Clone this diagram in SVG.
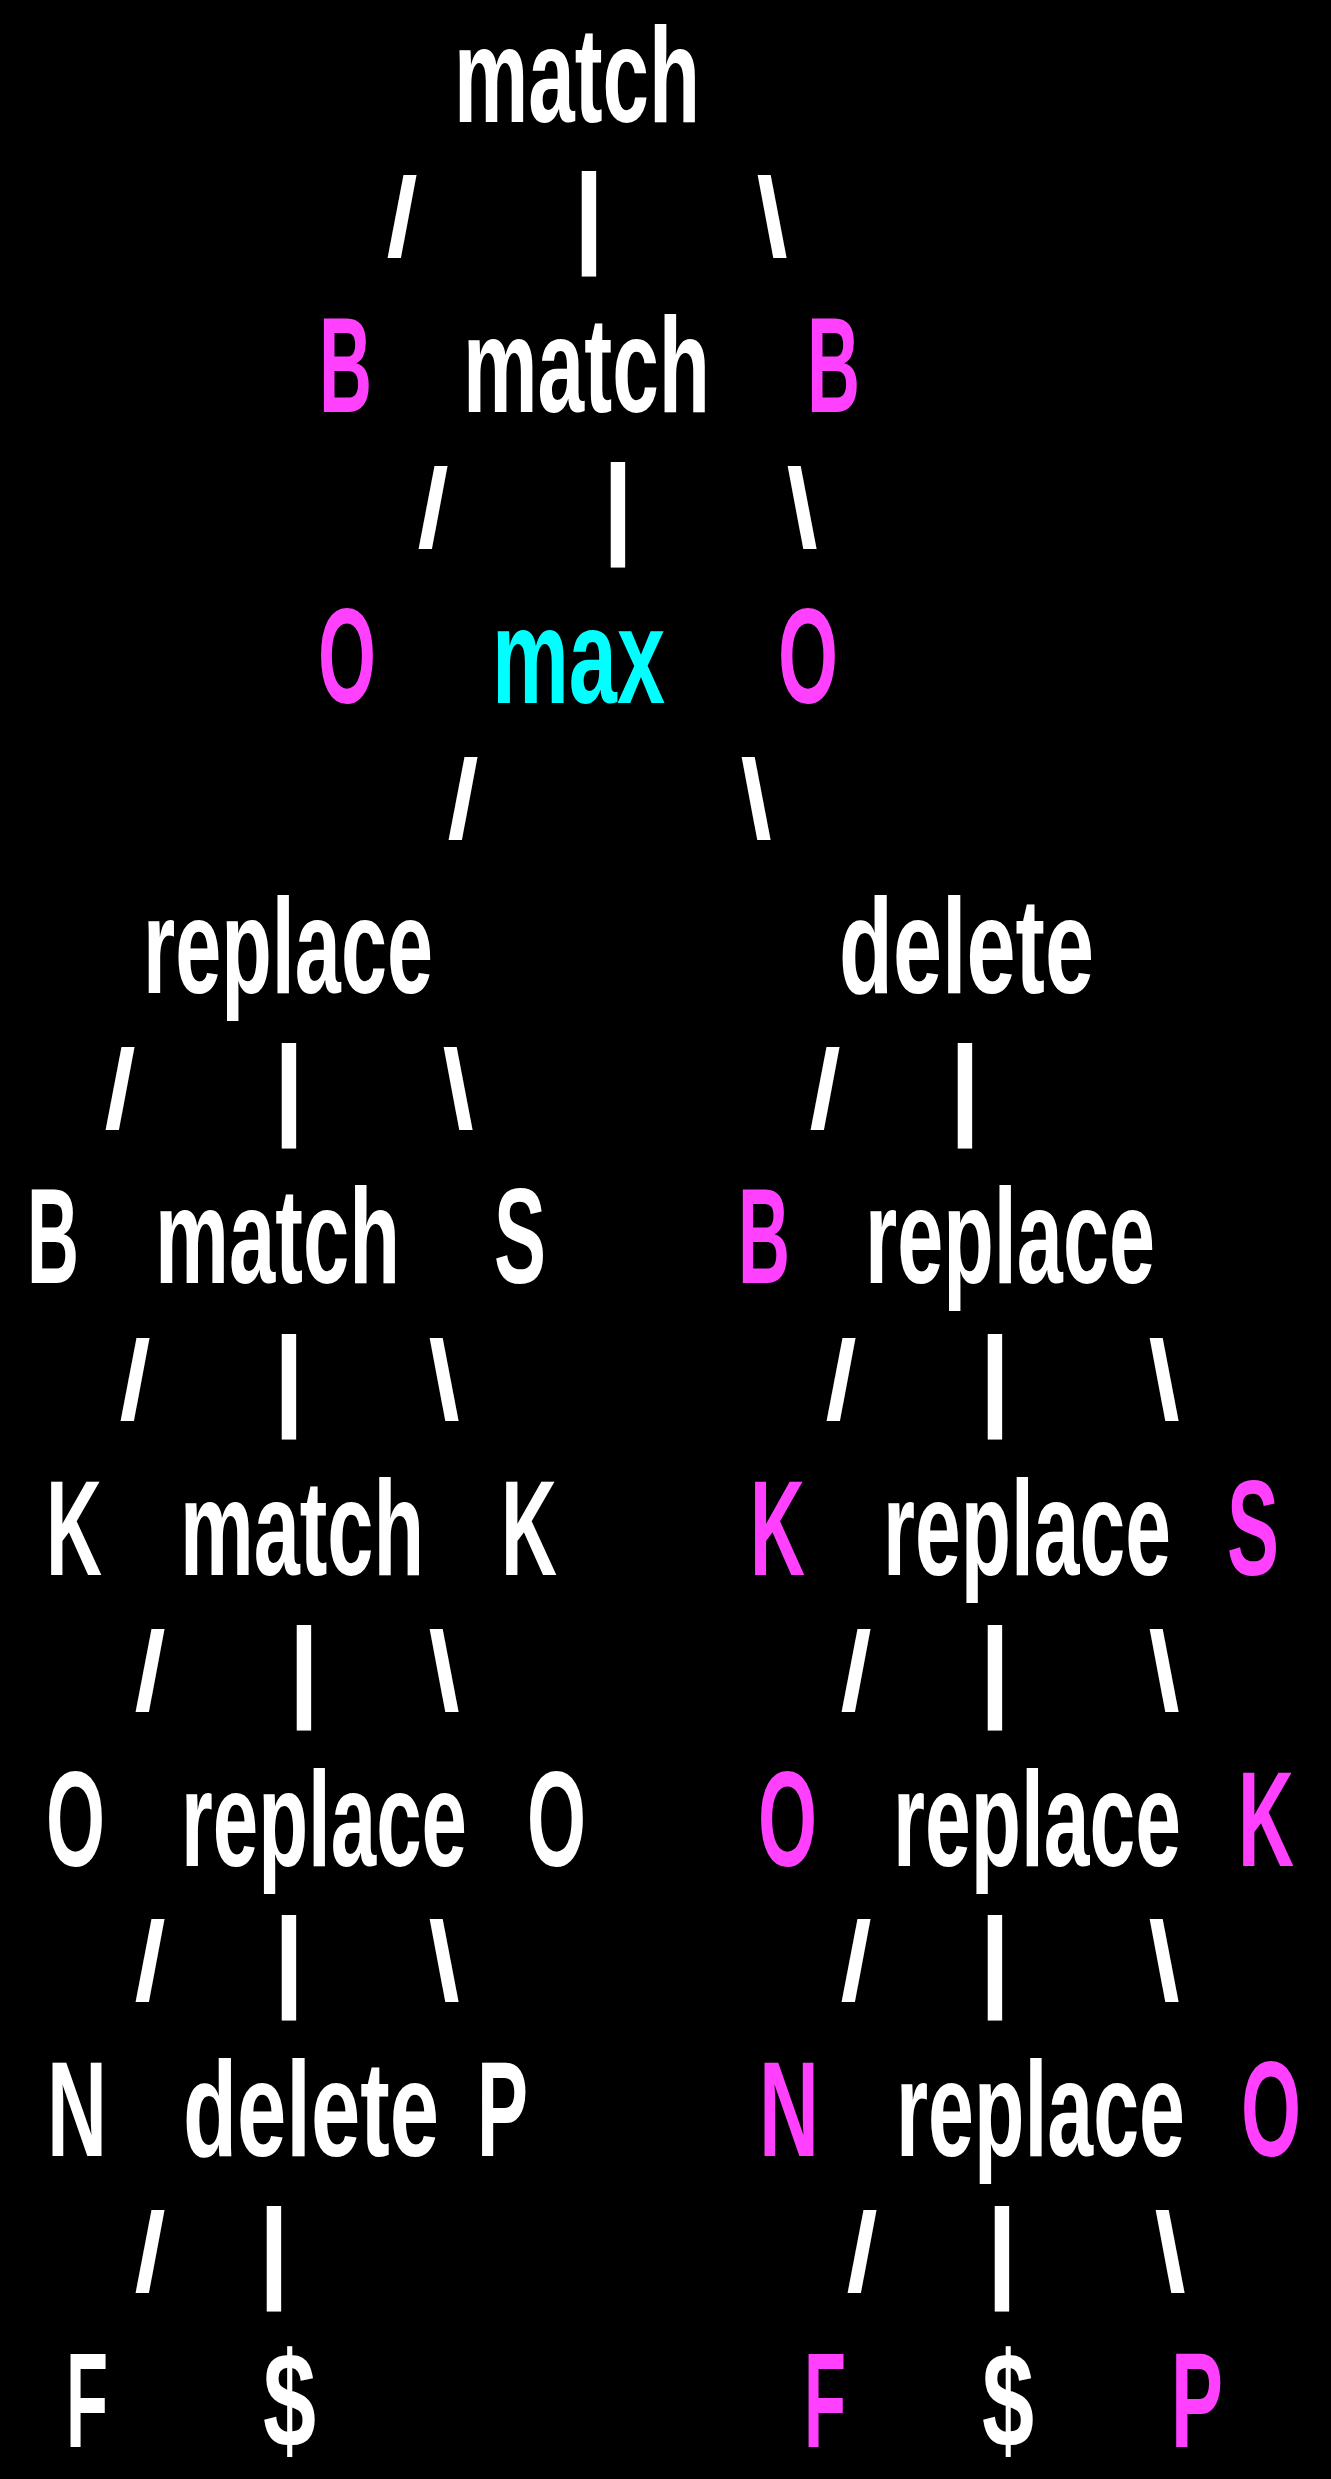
<svg xmlns="http://www.w3.org/2000/svg" width="1331" height="2479" viewBox="0 0 1331 2479">
<style>
.t{font-family:"Liberation Sans",Arial,sans-serif;font-weight:bold;font-size:136px}
.w{fill:#ffffff}.m{fill:#ff40ff}.c{fill:#00ffff}
.k{font-family:"Liberation Sans",Arial,sans-serif;font-weight:bold;font-size:112px;fill:#ffffff;text-anchor:middle}
</style>
<rect width="1331" height="2479" fill="#000000"/>
<g id="nodes">
<g id="n-match-root"><text class="t w" x="454" y="122" textLength="246" lengthAdjust="spacingAndGlyphs">match</text></g>
<g id="n-B1"><text class="t m" x="319" y="412" textLength="53" lengthAdjust="spacingAndGlyphs">B</text></g>
<g id="n-match2"><text class="t w" x="463" y="412" textLength="247" lengthAdjust="spacingAndGlyphs">match</text></g>
<g id="n-B2"><text class="t m" x="807" y="412" textLength="53" lengthAdjust="spacingAndGlyphs">B</text></g>
<g id="n-O1"><text class="t m" x="318" y="703" textLength="58" lengthAdjust="spacingAndGlyphs">O</text></g>
<g id="n-max"><text class="t c" x="492" y="703" textLength="173" lengthAdjust="spacingAndGlyphs">max</text></g>
<g id="n-O2"><text class="t m" x="778" y="703" textLength="60" lengthAdjust="spacingAndGlyphs">O</text></g>
<g id="n-replace-L"><text class="t w" x="143" y="993" textLength="290" lengthAdjust="spacingAndGlyphs">replace</text></g>
<g id="n-delete-R"><text class="t w" x="839" y="993" textLength="255" lengthAdjust="spacingAndGlyphs">delete</text></g>
<g id="n-B3"><text class="t w" x="27" y="1283" textLength="52" lengthAdjust="spacingAndGlyphs">B</text></g>
<g id="n-match3"><text class="t w" x="155" y="1283" textLength="245" lengthAdjust="spacingAndGlyphs">match</text></g>
<g id="n-S1"><text class="t w" x="494" y="1283" textLength="52" lengthAdjust="spacingAndGlyphs">S</text></g>
<g id="n-B4"><text class="t m" x="738" y="1283" textLength="52" lengthAdjust="spacingAndGlyphs">B</text></g>
<g id="n-replace-R1"><text class="t w" x="865" y="1283" textLength="290" lengthAdjust="spacingAndGlyphs">replace</text></g>
<g id="n-K1"><text class="t w" x="46" y="1575" textLength="56" lengthAdjust="spacingAndGlyphs">K</text></g>
<g id="n-match4"><text class="t w" x="180" y="1575" textLength="244" lengthAdjust="spacingAndGlyphs">match</text></g>
<g id="n-K2"><text class="t w" x="501" y="1575" textLength="56" lengthAdjust="spacingAndGlyphs">K</text></g>
<g id="n-K3"><text class="t m" x="750" y="1575" textLength="55" lengthAdjust="spacingAndGlyphs">K</text></g>
<g id="n-replace-R2"><text class="t w" x="883" y="1575" textLength="288" lengthAdjust="spacingAndGlyphs">replace</text></g>
<g id="n-S2"><text class="t m" x="1227" y="1575" textLength="52" lengthAdjust="spacingAndGlyphs">S</text></g>
<g id="n-O3"><text class="t w" x="46" y="1866" textLength="59" lengthAdjust="spacingAndGlyphs">O</text></g>
<g id="n-replace-L2"><text class="t w" x="181" y="1866" textLength="286" lengthAdjust="spacingAndGlyphs">replace</text></g>
<g id="n-O4"><text class="t w" x="527" y="1866" textLength="59" lengthAdjust="spacingAndGlyphs">O</text></g>
<g id="n-O5"><text class="t m" x="758" y="1866" textLength="59" lengthAdjust="spacingAndGlyphs">O</text></g>
<g id="n-replace-R3"><text class="t w" x="893" y="1866" textLength="288" lengthAdjust="spacingAndGlyphs">replace</text></g>
<g id="n-K4"><text class="t m" x="1238" y="1866" textLength="56" lengthAdjust="spacingAndGlyphs">K</text></g>
<g id="n-N1"><text class="t w" x="47" y="2156" textLength="60" lengthAdjust="spacingAndGlyphs">N</text></g>
<g id="n-delete-L"><text class="t w" x="183" y="2156" textLength="256" lengthAdjust="spacingAndGlyphs">delete</text></g>
<g id="n-P1"><text class="t w" x="477" y="2156" textLength="51" lengthAdjust="spacingAndGlyphs">P</text></g>
<g id="n-N2"><text class="t m" x="759" y="2156" textLength="60" lengthAdjust="spacingAndGlyphs">N</text></g>
<g id="n-replace-R4"><text class="t w" x="896" y="2156" textLength="289" lengthAdjust="spacingAndGlyphs">replace</text></g>
<g id="n-O6"><text class="t m" x="1241" y="2156" textLength="60" lengthAdjust="spacingAndGlyphs">O</text></g>
<g id="n-F1"><text class="t w" x="66" y="2447" textLength="42" lengthAdjust="spacingAndGlyphs">F</text></g>
<g id="n-D1"><text class="t w" x="263" y="2447" textLength="53" lengthAdjust="spacingAndGlyphs">$</text></g>
<g id="n-F2"><text class="t m" x="804" y="2447" textLength="42" lengthAdjust="spacingAndGlyphs">F</text></g>
<g id="n-D2"><text class="t w" x="982" y="2447" textLength="52" lengthAdjust="spacingAndGlyphs">$</text></g>
<g id="n-P2"><text class="t m" x="1171" y="2447" textLength="52" lengthAdjust="spacingAndGlyphs">P</text></g>
</g>
<g id="connectors">
<text class="k" x="402" y="256">/</text><text class="k" x="589" y="252">|</text><text class="k" x="772" y="256">\</text>
<text class="k" x="433" y="547">/</text><text class="k" x="618" y="543">|</text><text class="k" x="802" y="547">\</text>
<text class="k" x="463" y="838">/</text><text class="k" x="756" y="838">\</text>
<text class="k" x="120" y="1128">/</text><text class="k" x="289" y="1124">|</text><text class="k" x="458" y="1128">\</text>
<text class="k" x="825" y="1128">/</text><text class="k" x="965" y="1124">|</text>
<text class="k" x="135" y="1419">/</text><text class="k" x="289" y="1415">|</text><text class="k" x="444" y="1419">\</text>
<text class="k" x="841" y="1419">/</text><text class="k" x="995" y="1415">|</text><text class="k" x="1164" y="1419">\</text>
<text class="k" x="150" y="1710">/</text><text class="k" x="304" y="1706">|</text><text class="k" x="444" y="1710">\</text>
<text class="k" x="856" y="1710">/</text><text class="k" x="995" y="1706">|</text><text class="k" x="1164" y="1710">\</text>
<text class="k" x="150" y="2000">/</text><text class="k" x="289" y="1996">|</text><text class="k" x="444" y="2000">\</text>
<text class="k" x="856" y="2000">/</text><text class="k" x="995" y="1996">|</text><text class="k" x="1164" y="2000">\</text>
<text class="k" x="150" y="2291">/</text><text class="k" x="274" y="2287">|</text>
<text class="k" x="862" y="2291">/</text><text class="k" x="1002" y="2287">|</text><text class="k" x="1170" y="2291">\</text>
</g>
</svg>
